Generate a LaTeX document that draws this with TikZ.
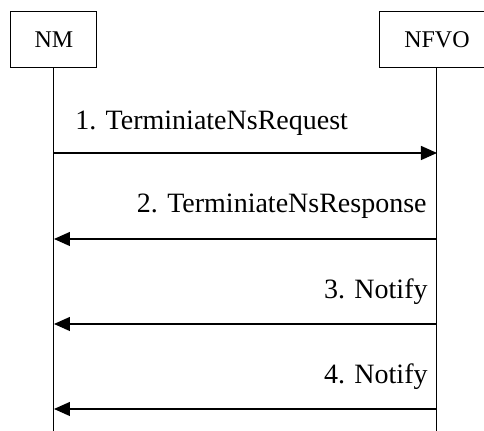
\documentclass[tikz,border=0pt]{standalone}
\usepackage{fontspec}
\setmainfont{Liberation Serif}
\usetikzlibrary{arrows.meta}

\begin{document}
\begin{tikzpicture}[x=0.5pt, y=-0.5pt]
      \tikzstyle{entity}=[draw, line width=0.5pt, minimum height=28pt, inner sep=0pt, font=\fontsize{12}{14}\selectfont]
      \tikzstyle{msg}=[line width=0.65pt, -{Triangle[length=8pt, width=7pt]}]
      \tikzstyle{lbl}=[inner sep=0pt, font=\fontsize{14}{16}\selectfont]

      \useasboundingbox (0,0) rectangle (484,431);
      \clip (0,0) rectangle (484,431);

      \path (54, 40) node[entity, minimum width=43pt] (nm) {NM};
      \path (437, 40) node[entity, minimum width=57pt] (nfvo) {NFVO};

      \coordinate (nmend) at (54, 431);
      \coordinate (nfvoend) at (437, 431);
      \draw [line width=0.5pt]
        (nm) -- (nmend)
        (nfvo) -- (nfvoend);

      \foreach \i/\y in {1/153, 2/239, 3/324, 4/409}
      {
        \coordinate (a\i) at (54, \y);
        \coordinate (b\i) at (437, \y);
      }

      \draw [msg] (a1) -- (b1);
      \draw [msg] (b2) -- (a2);
      \draw [msg] (b3) -- (a3);
      \draw [msg] (b4) -- (a4);

      \path (75, 123) node[lbl, anchor=west] (m1) {1. TerminiateNsRequest};
      \path (427, 206) node[lbl, anchor=east] (m2) {2. TerminiateNsResponse};
      \path (428, 292) node[lbl, anchor=east] (m3) {3. Notify};
      \path (428, 377) node[lbl, anchor=east] (m4) {4. Notify};
    \end{tikzpicture}
\end{document}
